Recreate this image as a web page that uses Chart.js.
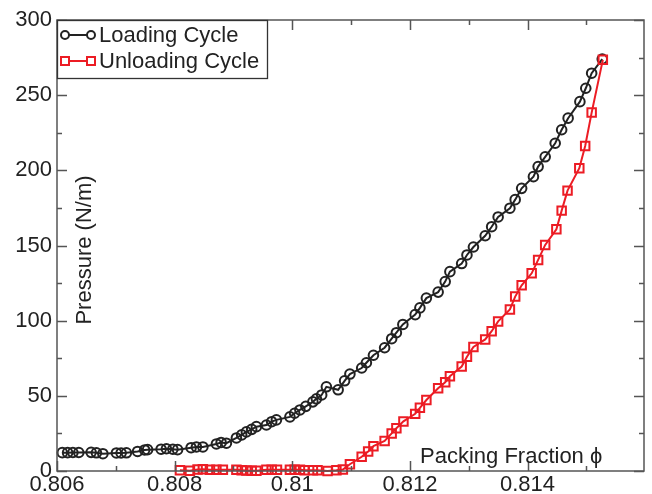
<!DOCTYPE html>
<html>
<head>
<meta charset="utf-8">
<script src="https://cdn.jsdelivr.net/npm/chart.js@4.4.0/dist/chart.umd.min.js"></script>
<style>
  html, body { margin: 0; padding: 0; background: #fff; }
  #wrap { width: 652px; height: 494px; }
</style>
</head>
<body>
<div id="wrap"><canvas id="chart" width="652" height="494"></canvas></div>
<script>
// =====================
// Data
// =====================
const loadPhi = [0.80609, 0.80618, 0.80627, 0.80637, 0.80658, 0.80667, 0.80678, 0.80701, 0.80709, 0.80718,
  0.80737, 0.80749, 0.80754, 0.80777, 0.80786, 0.80797, 0.80805, 0.80828, 0.80837, 0.80848,
  0.80871, 0.80879, 0.80888, 0.80905, 0.80914, 0.80922, 0.80931, 0.80939, 0.80956, 0.80965,
  0.80973, 0.80996, 0.81004, 0.81013, 0.81023, 0.81035, 0.81041, 0.81050, 0.81058, 0.81078,
  0.81089, 0.81098, 0.81118, 0.81126, 0.81138, 0.81157, 0.81169, 0.81177, 0.81188, 0.81209,
  0.81217, 0.81228, 0.81248, 0.81260, 0.81268, 0.81288, 0.81297, 0.81308, 0.81328, 0.81339,
  0.81350, 0.81370, 0.81379, 0.81390, 0.81410, 0.81418, 0.81430, 0.81447, 0.81458, 0.81469,
  0.81489, 0.81499, 0.81509, 0.81527];
const loadP = [12.2, 12.2, 12.3, 12.3, 12.4, 12.1, 11.5, 12, 12, 12.1,
  13, 14, 14.2, 14.5, 14.8, 14.5, 14.2, 15.5, 16, 16,
  18, 19, 18.5, 22, 24, 26, 27.7, 29.5, 30.6, 32.8,
  34, 36, 38.4, 40.6, 43, 46, 48, 50.6, 56, 54,
  60, 64.5, 68.5, 72, 77, 82, 88, 92, 97.5, 104,
  108.5, 115, 119, 126, 132.6, 138, 143.7, 149, 156.5, 162.5,
  169, 174.8, 180.5, 188, 195.8, 202.5, 209, 218, 227, 234.7,
  245.7, 254.6, 264.6, 274];

const unloadPhi = [0.80809, 0.80826, 0.80839, 0.80848, 0.80860, 0.80871, 0.80882, 0.80905, 0.80914, 0.80922,
  0.80931, 0.80939, 0.80956, 0.80965, 0.80974, 0.80996, 0.81004, 0.81013, 0.81021, 0.81035,
  0.81043, 0.81060, 0.81075, 0.81086, 0.81098, 0.81118, 0.81129, 0.81138, 0.81157, 0.81169,
  0.81177, 0.81189, 0.81209, 0.81217, 0.81228, 0.81248, 0.81260, 0.81268, 0.81288, 0.81297,
  0.81308, 0.81328, 0.81339, 0.81350, 0.81370, 0.81379, 0.81390, 0.81407, 0.81418, 0.81430,
  0.81449, 0.81458, 0.81468, 0.81488, 0.81498, 0.81509, 0.81528];
const unloadP = [0.5, 0.2, 1, 1.2, 0.8, 0.8, 0.8, 0.8, 0.5, 0.3,
  0.2, 0.2, 0.8, 0.8, 0.8, 0.8, 0.8, 0.8, 0.5, 0.5,
  0.5, 0, 0.5, 1, 4.5, 9.5, 13, 16.5, 20, 25,
  28.5, 33, 38, 42, 47.2, 55, 59, 63, 69.5, 76,
  82.5, 87.5, 93, 99.5, 107.5, 116, 123.5, 131.5, 140.4, 150.4,
  160.8, 173.2, 186.5, 201.4, 216.2, 238.4, 273.5];

const seriesNames = ['Loading Cycle', 'Unloading Cycle'];
const xTitle = 'Packing Fraction \u03D5';
const yTitle = 'Pressure (N/m)';

const BLACK = '#222222';
const RED = '#ec1c24';
const FONT = '"Liberation Sans", Arial, Helvetica, sans-serif';

function toPoints(xs, ys) {
  return xs.map((x, i) => ({ x: x, y: ys[i] }));
}

// =====================
// Frame, inward ticks, titles and legend
// =====================
const framePlugin = {
  id: 'frame',
  afterDraw(chart) {
    const ctx = chart.ctx;
    const a = chart.chartArea;
    const xs = chart.scales.x;
    const ys = chart.scales.y;
    ctx.save();
    ctx.strokeStyle = '#555';
    ctx.lineWidth = 1.5;
    ctx.strokeRect(a.left, a.top, a.right - a.left, a.bottom - a.top);

    // x ticks (major every 0.002, minor every 0.001)
    for (let k = 0; k <= 9; k++) {
      const v = 0.806 + k * 0.001;
      const px = Math.round(xs.getPixelForValue(v)) + 0.5;
      const len = k % 2 === 0 ? 10 : 5;
      ctx.beginPath();
      ctx.moveTo(px, a.bottom); ctx.lineTo(px, a.bottom - len);
      ctx.moveTo(px, a.top); ctx.lineTo(px, a.top + len);
      ctx.stroke();
    }
    // y ticks (major every 50, minor every 25)
    for (let v = 0; v <= 300; v += 25) {
      const py = Math.round(ys.getPixelForValue(v)) + 0.5;
      const len = v % 50 === 0 ? 10 : 5;
      ctx.beginPath();
      ctx.moveTo(a.left, py); ctx.lineTo(a.left + len, py);
      ctx.moveTo(a.right, py); ctx.lineTo(a.right - len, py);
      ctx.stroke();
    }

    // axis titles sit inside the plot
    ctx.fillStyle = BLACK;
    ctx.font = '22px ' + FONT;
    ctx.textBaseline = 'alphabetic';
    ctx.textAlign = 'left';
    ctx.fillText(xTitle, 420, 463);
    ctx.save();
    ctx.translate(91, 250);
    ctx.rotate(-Math.PI / 2);
    ctx.textAlign = 'center';
    ctx.fillText(yTitle, 0, 0);
    ctx.restore();

    // legend box
    ctx.fillStyle = '#fff';
    ctx.fillRect(a.left, a.top, 211, 59);
    ctx.strokeStyle = '#333';
    ctx.lineWidth = 1.3;
    ctx.strokeRect(a.left + 0.5, a.top + 0.5, 210, 58);
    const rows = [
      { y: a.top + 15, color: BLACK, shape: 'circle' },
      { y: a.top + 41, color: RED, shape: 'rect' }
    ];
    rows.forEach((r, i) => {
      ctx.strokeStyle = r.color;
      ctx.lineWidth = 2;
      ctx.beginPath();
      ctx.moveTo(65, r.y); ctx.lineTo(91, r.y);
      ctx.stroke();
      [65, 91].forEach(cx => {
        ctx.beginPath();
        if (r.shape === 'circle') ctx.arc(cx, r.y, 4, 0, Math.PI * 2);
        else ctx.rect(cx - 4, r.y - 4, 8, 8);
        ctx.fillStyle = '#fff';
        ctx.fill();
        ctx.stroke();
      });
      ctx.fillStyle = BLACK;
      ctx.font = '22px ' + FONT;
      ctx.textAlign = 'left';
      ctx.textBaseline = 'middle';
      ctx.fillText(seriesNames[i], 99, r.y + 1);
    });
    ctx.restore();
  }
};

const chart = new Chart(document.getElementById('chart'), {
  type: 'scatter',
  data: {
    datasets: [
      {
        label: seriesNames[0],
        data: toPoints(loadPhi, loadP),
        showLine: true,
        borderColor: BLACK,
        borderWidth: 2,
        pointStyle: 'circle',
        pointRadius: 4.8,
        pointBorderWidth: 2,
        pointBorderColor: BLACK,
        pointBackgroundColor: 'rgba(0,0,0,0)',
        order: 1
      },
      {
        label: seriesNames[1],
        data: toPoints(unloadPhi, unloadP),
        showLine: true,
        borderColor: RED,
        borderWidth: 2,
        pointStyle: 'rect',
        pointRadius: 6,
        pointBorderWidth: 2,
        pointBorderColor: RED,
        pointBackgroundColor: 'rgba(0,0,0,0)',
        order: 0
      }
    ]
  },
  options: {
    responsive: false,
    animation: false,
    devicePixelRatio: 1,
    clip: false,
    layout: { padding: { top: 20, right: 8, left: 0, bottom: 0 } },
    plugins: {
      legend: { display: false },
      tooltip: { enabled: false }
    },
    scales: {
      x: {
        type: 'linear',
        min: 0.806,
        max: 0.81598,
        grid: { display: false, drawTicks: false, tickLength: 0 },
        border: { display: false },
        ticks: {
          stepSize: 0.002,
          includeBounds: false,
          padding: 3,
          color: BLACK,
          font: { family: FONT, size: 22, lineHeight: 1 },
          callback: v => String(Number(v.toFixed(3)))
        },
        afterFit: s => { s.height = 23; }
      },
      y: {
        min: 0,
        max: 300,
        grid: { display: false, drawTicks: false, tickLength: 0 },
        border: { display: false },
        ticks: {
          stepSize: 50,
          padding: 5,
          color: BLACK,
          font: { family: FONT, size: 22 }
        },
        afterFit: s => { s.width = 57; }
      }
    }
  },
  plugins: [framePlugin]
});
</script>
</body>
</html>
